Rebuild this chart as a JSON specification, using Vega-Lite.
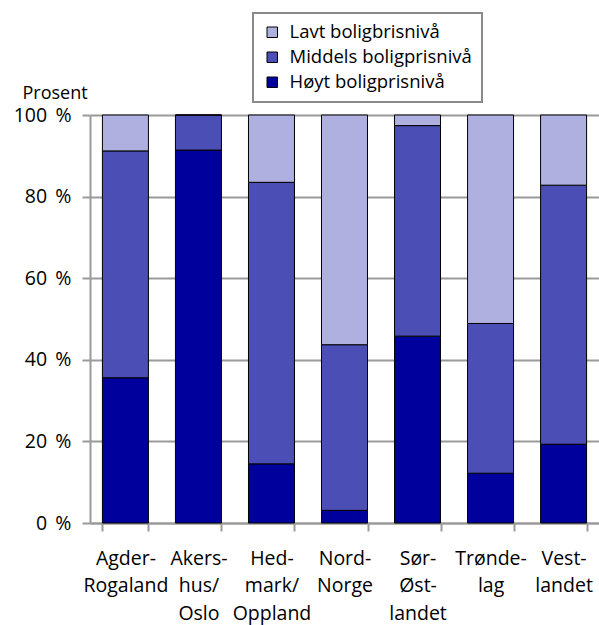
{
  "$schema": "https://vega.github.io/schema/vega-lite/v6.json",
  "width": 509,
  "height": 408,
  "autosize": "none",
  "padding": {"left": 90, "top": 115, "right": 0, "bottom": 102},
  "background": "white",
  "data": {
    "values": [
      {"region": "Agder-|Rogaland", "kategori": "Høyt boligprisnivå", "rank": 1, "prosent": 35.6},
      {"region": "Agder-|Rogaland", "kategori": "Middels boligprisnivå", "rank": 2, "prosent": 55.6},
      {"region": "Agder-|Rogaland", "kategori": "Lavt boligbrisnivå", "rank": 3, "prosent": 8.8},
      {"region": "Akers-|hus/|Oslo", "kategori": "Høyt boligprisnivå", "rank": 1, "prosent": 91.4},
      {"region": "Akers-|hus/|Oslo", "kategori": "Middels boligprisnivå", "rank": 2, "prosent": 8.6},
      {"region": "Akers-|hus/|Oslo", "kategori": "Lavt boligbrisnivå", "rank": 3, "prosent": 0},
      {"region": "Hed-|mark/|Oppland", "kategori": "Høyt boligprisnivå", "rank": 1, "prosent": 14.5},
      {"region": "Hed-|mark/|Oppland", "kategori": "Middels boligprisnivå", "rank": 2, "prosent": 69.0},
      {"region": "Hed-|mark/|Oppland", "kategori": "Lavt boligbrisnivå", "rank": 3, "prosent": 16.5},
      {"region": "Nord-|Norge", "kategori": "Høyt boligprisnivå", "rank": 1, "prosent": 3.1},
      {"region": "Nord-|Norge", "kategori": "Middels boligprisnivå", "rank": 2, "prosent": 40.6},
      {"region": "Nord-|Norge", "kategori": "Lavt boligbrisnivå", "rank": 3, "prosent": 56.3},
      {"region": "Sør-|Øst-|landet", "kategori": "Høyt boligprisnivå", "rank": 1, "prosent": 45.8},
      {"region": "Sør-|Øst-|landet", "kategori": "Middels boligprisnivå", "rank": 2, "prosent": 51.6},
      {"region": "Sør-|Øst-|landet", "kategori": "Lavt boligbrisnivå", "rank": 3, "prosent": 2.6},
      {"region": "Trønde-|lag", "kategori": "Høyt boligprisnivå", "rank": 1, "prosent": 12.2},
      {"region": "Trønde-|lag", "kategori": "Middels boligprisnivå", "rank": 2, "prosent": 36.7},
      {"region": "Trønde-|lag", "kategori": "Lavt boligbrisnivå", "rank": 3, "prosent": 51.1},
      {"region": "Vest-|landet", "kategori": "Høyt boligprisnivå", "rank": 1, "prosent": 19.3},
      {"region": "Vest-|landet", "kategori": "Middels boligprisnivå", "rank": 2, "prosent": 63.5},
      {"region": "Vest-|landet", "kategori": "Lavt boligbrisnivå", "rank": 3, "prosent": 17.2}
    ]
  },
  "mark": {"type": "bar", "stroke": "#000000", "strokeWidth": 1},
  "encoding": {
    "x": {
      "field": "region",
      "type": "nominal",
      "sort": null,
      "scale": {"paddingInner": 0.37, "paddingOuter": 0.17},
      "axis": {
        "title": null,
        "labelAngle": 0,
        "labelExpr": "split(datum.label, '|')",
        "labelFont": "Open Sans",
        "labelFontSize": 19.5,
        "labelColor": "#000000",
        "labelLineHeight": 27.5,
        "labelPadding": 18,
        "tickBand": "extent",
        "tickSize": 8,
        "tickColor": "#9a9a9a",
        "tickWidth": 2,
        "domainColor": "#9a9a9a",
        "domainWidth": 2,
        "grid": false
      }
    },
    "y": {
      "field": "prosent",
      "type": "quantitative",
      "stack": "zero",
      "scale": {"domain": [0, 100], "nice": false},
      "axis": {
        "values": [0, 20, 40, 60, 80, 100],
        "labelExpr": "datum.value + ' \u2009%'",
        "labelFont": "Open Sans",
        "labelFontSize": 19.5,
        "labelColor": "#000000",
        "labelPadding": 11,
        "tickSize": 8,
        "tickColor": "#9a9a9a",
        "tickWidth": 2,
        "domainColor": "#9a9a9a",
        "domainWidth": 2,
        "grid": true,
        "gridColor": "#9a9a9a",
        "gridWidth": 2,
        "title": "Prosent",
        "titleAngle": 0,
        "titleFont": "Open Sans",
        "titleFontSize": 18,
        "titleFontWeight": "normal",
        "titleColor": "#000000",
        "titleAlign": "left",
        "titleBaseline": "middle",
        "titleX": -68,
        "titleY": -22
      }
    },
    "color": {
      "field": "kategori",
      "type": "nominal",
      "scale": {
        "domain": ["Lavt boligbrisnivå", "Middels boligprisnivå", "Høyt boligprisnivå"],
        "range": ["#B0B0E0", "#4B4EB4", "#00009C"]
      },
      "legend": {
        "title": null,
        "orient": "none",
        "legendX": 163,
        "legendY": -102,
        "symbolType": "square",
        "symbolSize": 110,
        "symbolStrokeColor": "#000000",
        "symbolStrokeWidth": 1,
        "labelFont": "Open Sans",
        "labelFontSize": 18.5,
        "labelColor": "#000000",
        "labelOffset": 8,
        "rowPadding": 6,
        "padding": 10,
        "strokeColor": "#8a8a8a",
        "fillColor": "white",
        "labelLimit": 300
      }
    },
    "order": {"field": "rank", "type": "quantitative"}
  },
  "config": {
    "view": {"stroke": null},
    "legend": {"strokeWidth": 2}
  }
}
